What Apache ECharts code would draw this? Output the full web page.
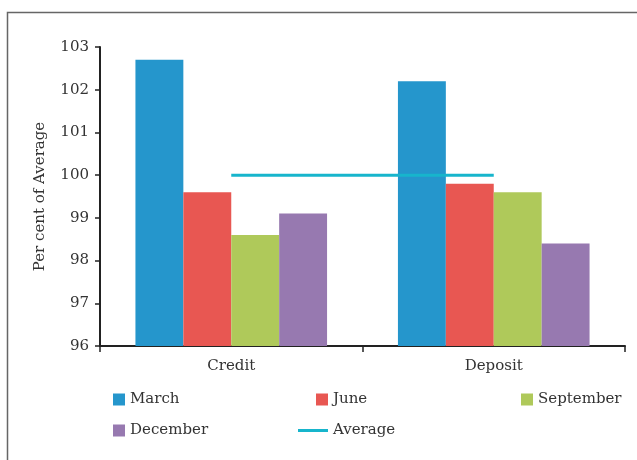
<!DOCTYPE html>
<html>
<head>
    <meta charset="UTF-8">
    <title>Per cent of Average</title>
    <script type="text/javascript" src="https://cdn.jsdelivr.net/npm/echarts@6/dist/echarts.min.js"></script>
    <style>
        body,html{
            margin: 0;
            width: 100%;
            height: 100%;
            background: #fff;
        }
        #chart{
            width: 637px;
            height: 460px;
        }
    </style>
</head>
<body>
<div id="chart"></div>
<script>
    var categories = ['Credit', 'Deposit'];
    var march = [102.7, 102.2];
    var june = [99.6, 99.8];
    var september = [98.6, 99.6];
    var december = [99.1, 98.4];
    var average = [100, 100];

    var font = 'DejaVu Serif';
    var echart = echarts.init(document.getElementById('chart'));

    function bar(name, data, color) {
        return {
            name: name,
            type: 'bar',
            data: data,
            barGap: '0%',
            barCategoryGap: '27%',
            itemStyle: { color: color }
        };
    }

    // one legend per item so each sits where the original puts it
    function legendAt(name, left, top, icon) {
        return {
            data: [name],
            left: left,
            top: top,
            icon: icon,
            itemWidth: icon === 'rect' ? 12 : 30,
            itemHeight: icon === 'rect' ? 12 : 3,
            itemGap: 8,
            textStyle: { fontFamily: font, fontSize: 15, color: '#333' }
        };
    }

    var option = {
        animation: false,
        textStyle: { fontFamily: font },
        grid: { left: 100, right: 12, top: 47, bottom: 114 },
        graphic: [{
            type: 'polyline',
            shape: { points: [[7.5, 460], [7.5, 12.5], [637, 12.5]] },
            style: { stroke: '#666', lineWidth: 1.5, fill: null }
        }],
        legend: [
            legendAt('March', 108, 387, 'rect'),
            legendAt('June', 311, 387, 'rect'),
            legendAt('September', 516, 387, 'rect'),
            legendAt('December', 108, 418, 'rect'),
            legendAt('Average', 293, 418, 'path://M0,0H30V3H0Z')
        ],
        xAxis: {
            type: 'category',
            data: categories,
            axisLine: { lineStyle: { color: '#222', width: 2 } },
            axisTick: { show: true, length: 6, lineStyle: { color: '#222', width: 1.5 } },
            axisLabel: { fontFamily: font, fontSize: 15, color: '#333', margin: 13 }
        },
        yAxis: {
            type: 'value',
            min: 96,
            max: 103,
            interval: 1,
            name: 'Per cent of Average',
            nameLocation: 'middle',
            nameGap: 52,
            nameTextStyle: { fontFamily: font, fontSize: 15, color: '#333' },
            axisLine: { show: true, lineStyle: { color: '#222', width: 2 } },
            axisTick: { show: true, length: 5, lineStyle: { color: '#222', width: 1.5 } },
            axisLabel: { fontFamily: font, fontSize: 15, color: '#333', margin: 11 },
            splitLine: { show: false }
        },
        series: [
            bar('March', march, '#2596cc'),
            bar('June', june, '#e85752'),
            bar('September', september, '#afc95a'),
            bar('December', december, '#9779b0'),
            {
                name: 'Average',
                type: 'line',
                data: average,
                symbol: 'none',
                itemStyle: { color: '#17b5cc' },
                lineStyle: { color: '#17b5cc', width: 3 }
            }
        ]
    };

    echart.setOption(option);
</script>
</body>
</html>
